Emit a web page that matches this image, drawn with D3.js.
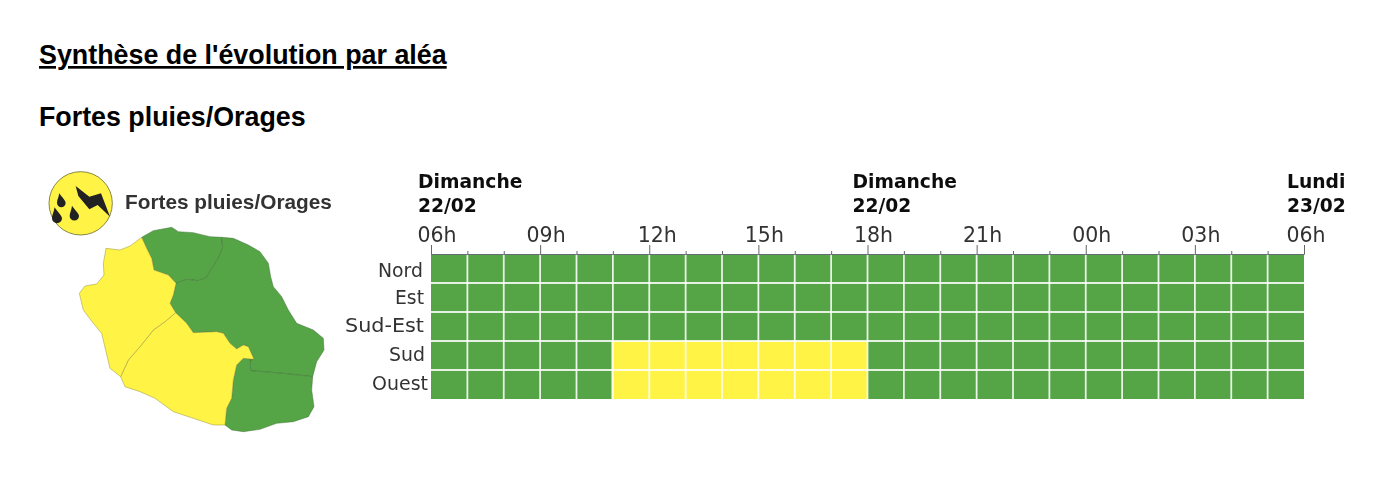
<!DOCTYPE html>
<html><head><meta charset="utf-8">
<script src="https://cdn.jsdelivr.net/npm/d3@7/dist/d3.min.js"></script>
<style>
html,body{margin:0;padding:0;background:#fff;overflow:hidden}
svg{display:block}
</style></head><body>
<svg id="c" width="1400" height="492"></svg>
<script>
const pageTitle = "Synthèse de l'évolution par aléa";
const hazardTitle = "Fortes pluies/Orages";
const zones = ["Nord","Est","Sud-Est","Sud","Ouest"];
const hourTicks = ["06h","09h","12h","15h","18h","21h","00h","03h","06h"];
const dayLabels = [["Dimanche","22/02",0],["Dimanche","22/02",12],["Lundi","23/02",24]];
// vigilance level per hour step (0 = vert, 1 = jaune)
const nord    = [0,0,0,0,0,0,0,0,0,0,0,0,0,0,0,0,0,0,0,0,0,0,0,0];
const est     = [0,0,0,0,0,0,0,0,0,0,0,0,0,0,0,0,0,0,0,0,0,0,0,0];
const sudEst  = [0,0,0,0,0,0,0,0,0,0,0,0,0,0,0,0,0,0,0,0,0,0,0,0];
const sud     = [0,0,0,0,0,1,1,1,1,1,1,1,0,0,0,0,0,0,0,0,0,0,0,0];
const ouest   = [0,0,0,0,0,1,1,1,1,1,1,1,0,0,0,0,0,0,0,0,0,0,0,0];
const levels = [nord,est,sudEst,sud,ouest];
const mapLevels = [0,0,0,1,1];
// region outlines in map units
const outlineNord = [[335,232],[370,212],[425,202],[445,215],[490,218],[540,230],[575,232],[578,262],[565,295],[545,325],[530,352],[505,362],[470,358],[438,370],[415,345],[372,330],[365,295],[350,265]];
const outlineEst = [[575,232],[610,235],[655,255],[690,275],[715,310],[722,350],[730,380],[755,410],[775,450],[800,490],[850,510],[880,535],[882,570],[860,605],[848,650],[760,640],[662,632],[660,600],[672,598],[655,560],[640,555],[620,567],[600,550],[580,520],[560,515],[490,518],[470,490],[437,458],[420,430],[430,405],[438,370],[470,358],[505,362],[530,352],[545,325],[565,295],[578,262]];
const outlineSudEst = [[662,632],[760,640],[848,650],[845,690],[852,740],[835,770],[790,785],[740,790],[690,808],[640,815],[605,810],[585,795],[590,745],[605,715],[610,660],[620,615],[640,595],[672,598],[660,600]];
const outlineSud = [[437,458],[470,490],[490,518],[560,515],[580,520],[600,550],[620,567],[640,555],[655,560],[672,598],[640,595],[620,615],[610,660],[605,715],[590,745],[585,795],[550,795],[490,775],[430,755],[375,715],[330,695],[285,680],[272,650],[295,600],[330,560],[370,510],[405,485]];
const outlineOuest = [[335,232],[350,265],[365,295],[372,330],[415,345],[438,370],[430,405],[420,430],[437,458],[405,485],[370,510],[330,560],[295,600],[272,650],[240,625],[228,575],[215,520],[190,490],[160,450],[148,400],[165,378],[200,372],[222,345],[220,310],[228,265],[270,270],[300,258]];
const outlines = [outlineNord,outlineEst,outlineSudEst,outlineSud,outlineOuest];
const bolt = [[137,78],[178,110],[213,100],[240,170],[203,135],[178,148],[145,108]];
const drops = [[94,126,13],[133,165,14],[81,172,15]];

const GREEN="#55a546", YELLOW="#fff345", color=d=>d?YELLOW:GREEN;
const svg=d3.select("#c");
svg.append("defs").append("filter").attr("id","soft")
  .attr("x",-0.05).attr("y",-0.05).attr("width",1.1).attr("height",1.1)
  .append("feGaussianBlur").attr("stdDeviation",0.7);

svg.append("text").attr("x",39).attr("y",64).text(pageTitle)
  .attr("font-family","'Liberation Sans'").attr("font-weight",700).attr("font-size",26.85)
  .attr("text-decoration","underline").attr("fill","#000");
svg.append("text").attr("x",39).attr("y",126).text(hazardTitle)
  .attr("font-family","'Liberation Sans'").attr("font-weight",700).attr("font-size",26.8).attr("fill","#000");

const g=svg.append("g").attr("filter","url(#soft)");

// Map
const mx=d3.scaleLinear().domain([0,960]).range([30,350]);
const my=d3.scaleLinear().domain([0,840]).range([160,440]);
const line=d3.line().x(d=>mx(d[0])).y(d=>my(d[1])).curve(d3.curveLinearClosed);
g.selectAll("path.region").data(outlines).join("path").attr("class","region")
  .attr("d",line).attr("fill",(d,i)=>color(mapLevels[i]))
  .attr("stroke",(d,i)=>mapLevels[i]?"#8a8438":"#3d6b33").attr("stroke-width",0.6).attr("stroke-opacity",0.75).attr("stroke-linejoin","round");

// Icon
g.append("circle").attr("cx",mx(152)).attr("cy",my(130)).attr("r",mx(95)-mx(0))
  .attr("fill",YELLOW).attr("stroke","#6b6a30").attr("stroke-width",0.8);
g.append("path").attr("d",line(bolt)).attr("fill","#222");
g.selectAll("path.drop").data(drops).join("path").attr("class","drop")
  .attr("d",d=>{const x=mx(d[0]),y=my(d[1]),r=mx(d[2])-mx(0);
    return `M${x-r*0.5},${y-r*2} C${x+r*0.2},${y-r} ${x+r},${y-r*0.3} ${x+r},${y+r*0.2} A${r},${r} 0 1 1 ${x-r},${y+r*0.2} C${x-r},${y-r*0.5} ${x-r*0.6},${y-r} ${x-r*0.5},${y-r*2}Z`;})
  .attr("fill","#222");
g.append("text").attr("x",125).attr("y",209).text(hazardTitle)
  .attr("font-family","'Liberation Sans'").attr("font-weight",700).attr("font-size",20.8).attr("fill","#333");

// Grid
const x=d3.scaleLinear().domain([0,24]).range([431,1304]);
const y=d3.scaleBand().domain(zones).range([254,399]);
const cells=levels.flatMap((row,r)=>row.map((v,h)=>({zone:zones[r],h,v})));
g.selectAll("rect.cell").data(cells).join("rect").attr("class","cell")
  .attr("x",d=>x(d.h)-(d.v?1.5:0)).attr("y",d=>y(d.zone))
  .attr("width",d=>x(1)-x(0)+(d.v?1.5:0)).attr("height",y.bandwidth())
  .attr("fill",d=>color(d.v));
g.selectAll("line.gv").data(d3.range(1,24)).join("line").attr("class","gv")
  .attr("x1",d=>x(d)).attr("x2",d=>x(d)).attr("y1",254).attr("y2",399)
  .attr("stroke","#fff").attr("stroke-opacity",0.85).attr("stroke-width",1.8);
g.selectAll("line.gh").data(zones.slice(1)).join("line").attr("class","gh")
  .attr("x1",x(0)).attr("x2",x(24)).attr("y1",z=>y(z)).attr("y2",z=>y(z))
  .attr("stroke","#fff").attr("stroke-opacity",0.85).attr("stroke-width",1.8);

const axisG=g.append("g").attr("transform",`translate(0,${y.range()[0]})`);
axisG.call(d3.axisTop(x).ticks(24).tickSize(3).tickFormat(""));
axisG.selectAll(".domain").attr("stroke","#667").attr("stroke-width",0.9);
axisG.selectAll(".tick line").attr("stroke","#666").attr("stroke-width",1)
  .attr("y2",(d)=>d%3===0?-9:-3);
const hourNudge=[0,0,2,0,0,0,0,0,-4];
hourTicks.forEach((t,i)=>{
  g.append("text").attr("x",x(i*3)+6+hourNudge[i]).attr("y",242).attr("text-anchor","middle").text(t)
   .attr("font-family","'DejaVu Sans'").attr("font-size",20.5).attr("fill","#333");
});
const dayX=d3.scaleLinear().domain([0,24]).range([418,1287]);
dayLabels.forEach(d=>{
  const t=g.append("text").attr("font-family","'DejaVu Sans'").attr("font-weight",700).attr("font-size",18.7).attr("fill","#111");
  t.append("tspan").attr("x",dayX(d[2])).attr("y",188).text(d[0]);
  t.append("tspan").attr("x",dayX(d[2])).attr("y",212).text(d[1]);
});
const zoneRight=[423,424,424,425,428], zoneWidth=[45,29,79,36,56], zoneNudge=[2.5,1,0,0,0];
g.selectAll("text.zone").data(zones).join("text").attr("class","zone")
  .attr("x",(z,i)=>zoneRight[i]-zoneWidth[i]).attr("y",(z,i)=>y(z)+y.bandwidth()/2+5.5+zoneNudge[i])
  .attr("textLength",(z,i)=>zoneWidth[i]).attr("lengthAdjust","spacingAndGlyphs").text(z=>z)
  .attr("font-family","'DejaVu Sans'").attr("font-size",19).attr("fill","#333");
</script>
</body></html>
